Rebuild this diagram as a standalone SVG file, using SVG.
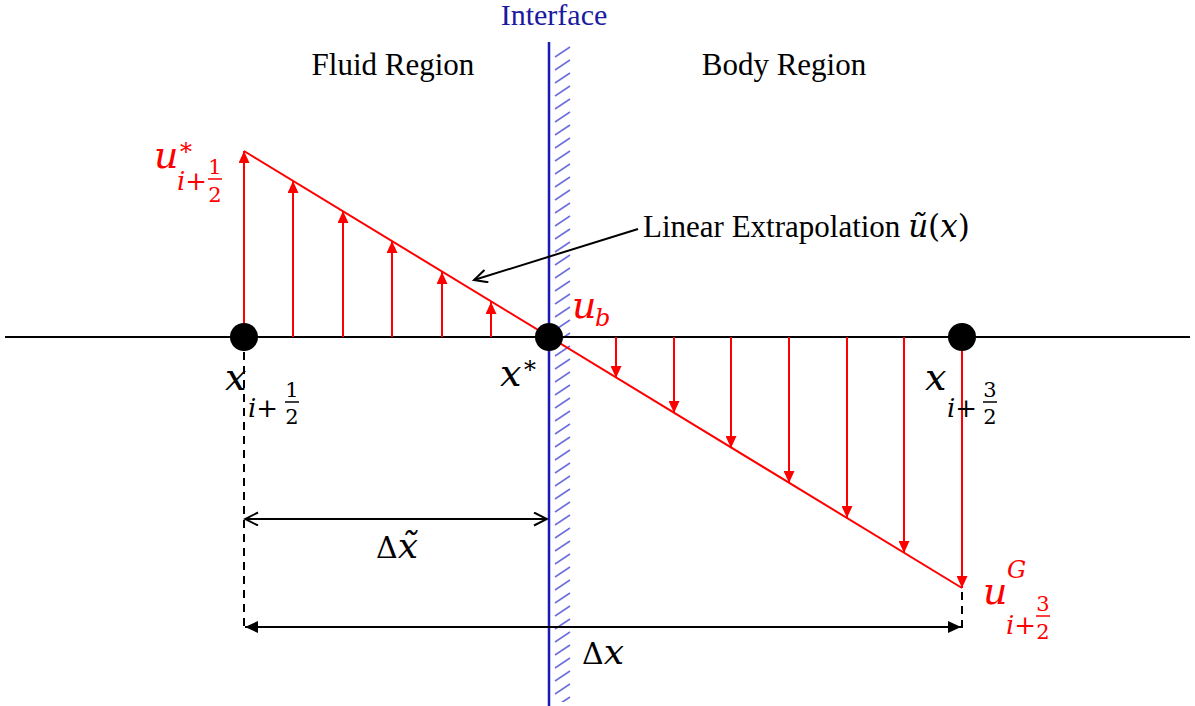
<svg xmlns="http://www.w3.org/2000/svg" width="1195" height="706" viewBox="0 0 1195 706">
<style>
.lbl{font-family:"Liberation Serif",serif;fill:#000}
.m{font-family:"DejaVu Serif",serif;font-style:italic}
.up{font-family:"DejaVu Serif",serif;font-style:normal}
.red{fill:#ff0000}
.blk{fill:#000}
.ax{stroke:#000;stroke-width:2;fill:none}
.rl{stroke:#ff0000;stroke-width:2;fill:none}
.dash{stroke:#000;stroke-width:2;stroke-dasharray:8,6;fill:none}
</style>
<defs>
<marker id="rh" markerUnits="userSpaceOnUse" markerWidth="13" markerHeight="11" refX="12" refY="5.5" orient="auto"><path d="M0,0 L12,5.5 L0,11 z" fill="#ff0000"/></marker>
<marker id="bf" markerUnits="userSpaceOnUse" markerWidth="14" markerHeight="12" refX="13" refY="6" orient="auto-start-reverse"><path d="M0,0 L13,6 L0,12 z" fill="#000"/></marker>
<marker id="bo" markerUnits="userSpaceOnUse" markerWidth="16" markerHeight="16" refX="14" refY="7" orient="auto-start-reverse"><path d="M1,0.5 L14,7 L1,13.5" fill="none" stroke="#000" stroke-width="2"/></marker>
<pattern id="hatch" patternUnits="userSpaceOnUse" x="553" y="45" width="22" height="13"><line x1="2" y1="12" x2="17" y2="2" stroke="#6e6ee0" stroke-width="1.6"/></pattern>
</defs>

<g id="interface">
<rect x="553" y="45" width="20" height="657" fill="url(#hatch)"/>
<line x1="549" y1="42" x2="549" y2="706" stroke="#1a1ab4" stroke-width="2.5"/>
<text x="554" y="25" text-anchor="middle" font-family="Liberation Serif, serif" font-size="30" fill="#1a1aa0">Interface</text>
</g>

<g id="region-labels">
<text class="lbl" x="393" y="75" text-anchor="middle" font-size="31">Fluid Region</text>
<text class="lbl" x="784" y="75" text-anchor="middle" font-size="31">Body Region</text>
</g>

<g id="axis">
<line class="ax" x1="5" y1="337" x2="1190" y2="337"/>
</g>

<g id="connectors">
<line class="rl" x1="244" y1="151" x2="962" y2="588"/>
<line class="rl" x1="244" y1="337" x2="244" y2="151" marker-end="url(#rh)"/>
<line class="rl" x1="293" y1="337" x2="293" y2="181" marker-end="url(#rh)"/>
<line class="rl" x1="343" y1="337" x2="343" y2="211" marker-end="url(#rh)"/>
<line class="rl" x1="392" y1="337" x2="392" y2="241" marker-end="url(#rh)"/>
<line class="rl" x1="442" y1="337" x2="442" y2="272" marker-end="url(#rh)"/>
<line class="rl" x1="491" y1="337" x2="491" y2="302" marker-end="url(#rh)"/>
<line class="rl" x1="616" y1="337" x2="616" y2="378" marker-end="url(#rh)"/>
<line class="rl" x1="674" y1="337" x2="674" y2="413" marker-end="url(#rh)"/>
<line class="rl" x1="731" y1="337" x2="731" y2="448" marker-end="url(#rh)"/>
<line class="rl" x1="789" y1="337" x2="789" y2="483" marker-end="url(#rh)"/>
<line class="rl" x1="847" y1="337" x2="847" y2="518" marker-end="url(#rh)"/>
<line class="rl" x1="904" y1="337" x2="904" y2="553" marker-end="url(#rh)"/>
<line class="rl" x1="962" y1="337" x2="962" y2="588" marker-end="url(#rh)"/>
<line class="dash" x1="244" y1="352" x2="244" y2="628"/>
<line class="dash" x1="962" y1="592" x2="962" y2="628"/>
<line class="ax" x1="245" y1="519" x2="547" y2="519" marker-start="url(#bo)" marker-end="url(#bo)"/>
<line class="ax" x1="245" y1="627" x2="961" y2="627" marker-start="url(#bf)" marker-end="url(#bf)"/>
<line class="ax" x1="638" y1="229" x2="474" y2="280" marker-end="url(#bo)"/>
</g>

<g id="node-xi12">
<circle cx="244" cy="337" r="14" fill="#000"/>
<text class="m blk" x="225" y="390" font-size="38">x</text>
<text class="m blk" x="248" y="417" font-size="26">i<tspan class="up">+</tspan></text>
<text class="up blk" x="292" y="397" font-size="21" text-anchor="middle">1</text>
<line x1="285" y1="402" x2="299" y2="402" stroke="#000" stroke-width="1.5"/>
<text class="up blk" x="292" y="424" font-size="21" text-anchor="middle">2</text>
</g>

<g id="node-xstar">
<circle cx="549" cy="337" r="14" fill="#000"/>
<text class="m blk" x="500" y="386" font-size="38">x</text>
<text class="up blk" x="524" y="378" font-size="24">*</text>
<text class="m red" x="572" y="318" font-size="38">u</text>
<text class="m red" x="595" y="326" font-size="24">b</text>
</g>

<g id="node-xi32">
<circle cx="962" cy="337" r="14" fill="#000"/>
<text class="m blk" x="925" y="390" font-size="38">x</text>
<text class="m blk" x="947" y="417" font-size="26">i<tspan class="up">+</tspan></text>
<text class="up blk" x="990" y="397" font-size="21" text-anchor="middle">3</text>
<line x1="983" y1="402" x2="997" y2="402" stroke="#000" stroke-width="1.5"/>
<text class="up blk" x="990" y="424" font-size="21" text-anchor="middle">2</text>
</g>

<g id="label-ustar">
<text class="m red" x="154" y="168" font-size="38">u</text>
<text class="up red" x="180" y="160" font-size="24">*</text>
<text class="m red" x="177" y="190" font-size="26">i<tspan class="up">+</tspan></text>
<text class="up red" x="215" y="174" font-size="21" text-anchor="middle">1</text>
<line x1="208" y1="179" x2="222" y2="179" stroke="#ff0000" stroke-width="1.5"/>
<text class="up red" x="215" y="202" font-size="21" text-anchor="middle">2</text>
</g>

<g id="label-uG">
<text class="m red" x="983" y="604" font-size="38">u</text>
<text class="m red" x="1007" y="578" font-size="24">G</text>
<text class="m red" x="1006" y="634" font-size="26">i<tspan class="up">+</tspan></text>
<text class="up red" x="1043" y="611" font-size="21" text-anchor="middle">3</text>
<line x1="1036" y1="616" x2="1050" y2="616" stroke="#ff0000" stroke-width="1.5"/>
<text class="up red" x="1043" y="639" font-size="21" text-anchor="middle">2</text>
</g>

<g id="label-linear">
<text class="lbl" x="643" y="237" font-size="31">Linear Extrapolation <tspan class="m" font-size="31">ũ</tspan><tspan class="up" font-size="31">(</tspan><tspan class="m" font-size="31">x</tspan><tspan class="up" font-size="31">)</tspan></text>
</g>

<g id="label-dxt">
<text class="up blk" x="376" y="558" font-size="30">Δ<tspan class="m" font-size="36">x̃</tspan></text>
</g>

<g id="label-dx">
<text class="up blk" x="582" y="664" font-size="30">Δ<tspan class="m" font-size="36">x</tspan></text>
</g>
</svg>
